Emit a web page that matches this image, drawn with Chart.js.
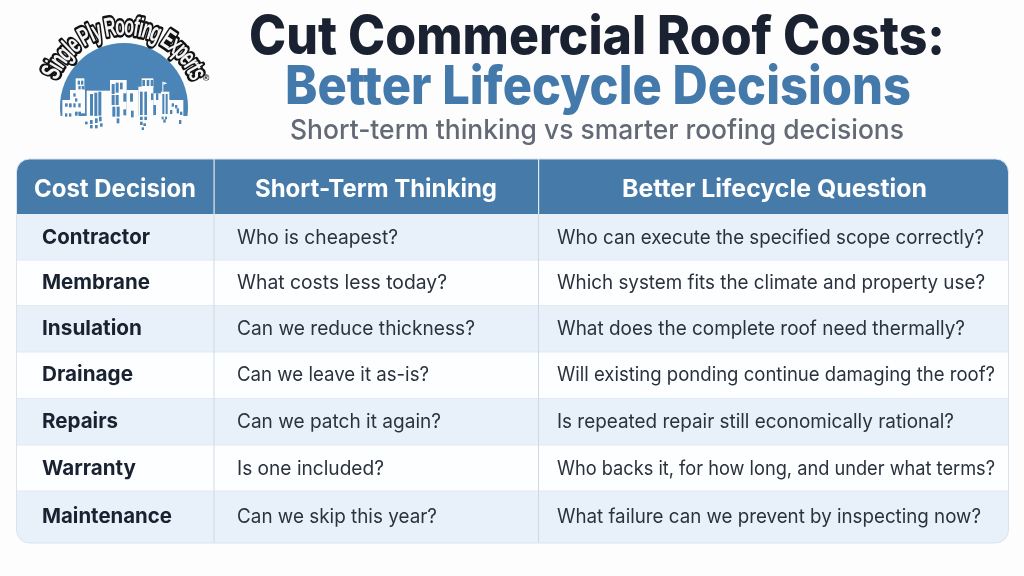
<!DOCTYPE html>
<html>
<head>
<meta charset="utf-8">
<style>html,body{margin:0;padding:0;background:#fdfdfd}canvas{display:block}</style>
<script src="https://cdn.jsdelivr.net/npm/chart.js@4/dist/chart.umd.min.js"></script>
</head>
<body>
<canvas id="c" width="1024" height="576" style="width:1024px;height:576px"></canvas>
<script>
// ---- table content ----
const titleLine1 = "Cut Commercial Roof Costs:";
const titleLine2 = "Better Lifecycle Decisions";
const subtitle = "Short-term thinking vs smarter roofing decisions";
const logoText = "Single Ply Roofing Experts";
const columns = ["Cost Decision", "Short-Term Thinking", "Better Lifecycle Question"];
const categories = ["Contractor","Membrane","Insulation","Drainage","Repairs","Warranty","Maintenance"];
const shortTerm = ["Who is cheapest?","What costs less today?","Can we reduce thickness?","Can we leave it as-is?","Can we patch it again?","Is one included?","Can we skip this year?"];
const lifecycle = ["Who can execute the specified scope correctly?","Which system fits the climate and property use?","What does the complete roof need thermally?","Will existing ponding continue damaging the roof?","Is repeated repair still economically rational?","Who backs it, for how long, and under what terms?","What failure can we prevent by inspecting now?"];

// ---- layout (image pixels; the scales below are 1:1 with the picture) ----
const T = {l:16.5, r:1008.5, t:159, h:214, b:543, rad:13};
const colEdges = [214, 538.5];
const rowEdges = [214, 260, 305.5, 352, 398.5, 445, 491, 543];
const rowBase = [244, 289, 335, 381, 428, 475, 523];
const cellX = [42, 237, 557];
const cellEnd = [[150,150,142,133,118,136,172],[398,447,475,429,441,384,437],[984,985,965,995,954,995,981]];
const headX = [[34,196],[255,497],[622,927]];
const FONT = 'Inter, "Noto Sans", sans-serif';

const P = {
  id:'tablePainter',
  beforeDatasetsDraw(ch){
    const c = ch.ctx, X = v=>ch.scales.x.getPixelForValue(v), Y = v=>ch.scales.y.getPixelForValue(v);
    const l=X(T.l), r=X(T.r), t=Y(T.t), h=Y(T.h), b=Y(T.b);
    c.save();
    c.fillStyle='#fdfdfd'; c.fillRect(0,0,1024,576);
    c.save();
    c.beginPath(); c.roundRect(l,t,r-l,b-t,T.rad); c.clip();
    c.fillStyle='#fdfeff'; c.fillRect(l,t,r-l,b-t);
    rowEdges.slice(0,-1).forEach((e,i)=>{
      c.fillStyle = i%2===0 ? '#e8f0f9' : '#fdfeff';
      c.fillRect(l,Y(e),r-l,Y(rowEdges[i+1])-Y(e));
      if(i>0){c.fillStyle='#e3e9f0'; c.fillRect(l,Y(e)-0.5,r-l,1);}
    });
    c.fillStyle='#467ba9'; c.fillRect(l,t,r-l,h-t);
    colEdges.forEach(e=>{
      c.fillStyle='#d0d9e3'; c.fillRect(X(e)-0.5,h,1,b-h);
      c.fillStyle='#dfe9f2'; c.fillRect(X(e)-0.5,t,1.2,h-t);
    });
    c.restore();
    c.strokeStyle='#dbe4ed'; c.lineWidth=1;
    c.beginPath(); c.roundRect(l,t,r-l,b-t,T.rad); c.stroke();
    drawLogo(c,X,Y);
    c.textBaseline='alphabetic'; c.textAlign='left';
    c.fillStyle='#1a2130'; c.font='800 53px '+FONT; fit(c,titleLine1,X(249),Y(54),696);
    c.fillStyle='#437aab'; c.font='800 53px '+FONT; fit(c,titleLine2,X(285),Y(104),626);
    c.fillStyle='#636a75'; c.font='500 27.5px '+FONT; fit(c,subtitle,X(290),Y(139),614);
    c.fillStyle='#ffffff'; c.font='700 24.5px '+FONT;
    columns.forEach((s,i)=>fit(c,s,X(headX[i][0]),Y(197),headX[i][1]-headX[i][0]));
    c.restore();
  },
  afterDatasetsDraw(ch){
    const c=ch.ctx;
    c.save(); c.textBaseline='alphabetic'; c.textAlign='left';
    ch.data.datasets.forEach((ds,i)=>{
      c.fillStyle = i===0 ? '#182230' : '#2a323d';
      c.font = (i===0?'700 20.5px ':'400 20px ')+FONT;
      ch.getDatasetMeta(i).data.forEach((pt,j)=>fit(c,ds.texts[j],pt.x,pt.y,ch.scales.x.getPixelForValue(cellEnd[i][j])-pt.x));
    });
    c.restore();
  }
};
function fit(c,s,x,y,w){
  const m=c.measureText(s).width;
  c.save(); c.translate(x,y); c.scale(w/m,1); c.fillText(s,0,0); c.restore();
}
function drawLogo(c,X,Y){
  const cx=X(124), cy=Y(107), R=64, bl='#4b84b6';
  c.save();
  c.beginPath(); c.rect(0,0,300,Y(116)); c.clip();
  c.fillStyle=bl; c.beginPath(); c.arc(cx,cy,R,0,Math.PI*2); c.fill();
  c.restore();
  const ox=X(55), oy=Y(70), z=v=>v/3;
  const white=[[22,90,50,60],[45,60,45,70],[62,25,26,45],[95,62,70,90],[165,30,50,110],[215,60,35,80],[250,50,45,90],[260,25,35,30],[295,70,30,70],[318,65,25,85],[322,35,3,30],[340,90,45,50]];
  c.fillStyle='#fdfdfd';
  white.forEach(r=>c.fillRect(ox+z(r[0]),oy+z(r[1]),z(r[2]),z(r[3])));
  c.beginPath();c.moveTo(ox+z(325),oy+z(35));c.lineTo(ox+z(337),oy+z(40));c.lineTo(ox+z(325),oy+z(44));c.fill();
  const win=[[68,32,7,12],[78,32,7,12],[70,48,7,10],[80,48,7,10],[35,80,8,10],[30,100,8,10],[42,100,8,12],[55,70,7,10],[60,85,7,10],[70,100,7,12],[55,100,7,12],[30,130,7,10],[42,130,7,10],[60,125,8,12],[70,125,8,12],
  [105,72,9,65],[118,68,9,70],[130,65,9,72],[90,155,8,8],[105,150,8,12],[120,145,8,14],[132,140,8,14],[105,165,8,10],[120,165,8,10],[135,160,8,10],
  [170,42,9,30],[182,38,9,30],[195,38,8,20],[170,75,9,30],[182,75,9,30],[172,110,9,30],[185,110,9,30],[205,70,9,25],[225,70,9,25],[205,118,8,18],[228,122,8,20],[185,145,8,15],
  [262,30,8,18],[275,30,8,18],[287,30,7,18],[255,65,8,70],[268,65,8,70],[255,140,8,10],[268,140,8,10],[255,155,8,10],[265,160,8,8],[260,172,7,8],[288,70,7,20],[303,70,7,20],[295,105,8,30],
  [322,72,6,60],[332,72,6,60],[320,140,6,8],[330,140,6,8],[350,100,7,10],[360,105,7,10],[345,120,7,12],[365,115,7,15],[375,125,7,10],[372,150,7,12],[325,148,7,10]];
  c.fillStyle=bl;
  win.forEach(r=>c.fillRect(ox+z(r[0]),oy+z(r[1]),z(r[2]),z(r[3])));
  const rad=72, sx=0.6, start=-68, end=69;
  c.font='700 27px "Liberation Sans", sans-serif'; c.textAlign='left'; c.textBaseline='alphabetic';
  const chars=[...logoText];
  const widths=chars.map(ch=>c.measureText(ch).width);
  const tot=widths.reduce((a,b)=>a+b,0);
  const span=(end-start)*Math.PI/180;
  [0,1].forEach(pass=>{
    let acc=0;
    chars.forEach((ch,i)=>{
      const a=(start*Math.PI/180)+span*(acc+widths[i]/2)/tot;
      acc+=widths[i];
      c.save(); c.translate(cx+Math.sin(a)*rad, cy-Math.cos(a)*rad); c.rotate(a); c.scale(sx,1);
      if(pass===0){c.strokeStyle='#111';c.lineWidth=5;c.lineJoin='round';c.strokeText(ch,-widths[i]/2,0);}
      else{c.fillStyle='#f4f4f4';c.fillText(ch,-widths[i]/2,0);}
      c.restore();
    });
  });
  c.fillStyle='#111'; c.font='700 9px "Liberation Sans", sans-serif'; c.textAlign='center';
  c.fillText('®',X(206),Y(81));
}
const mk=(arr,x)=>arr.map((s,i)=>({x:x,y:rowBase[i]}));
new Chart(document.getElementById('c'),{
  type:'scatter',
  data:{datasets:[
    {label:columns[0],texts:categories,data:mk(categories,cellX[0]),pointRadius:0},
    {label:columns[1],texts:shortTerm,data:mk(shortTerm,cellX[1]),pointRadius:0},
    {label:columns[2],texts:lifecycle,data:mk(lifecycle,cellX[2]),pointRadius:0}
  ]},
  options:{
    responsive:false,animation:false,devicePixelRatio:1,
    layout:{padding:0},
    plugins:{legend:{display:false},tooltip:{enabled:false},title:{display:false}},
    scales:{
      x:{type:'linear',min:0,max:1024,display:false},
      y:{type:'linear',min:0,max:576,reverse:true,display:false}
    }
  },
  plugins:[P]
});
</script>
</body>
</html>
